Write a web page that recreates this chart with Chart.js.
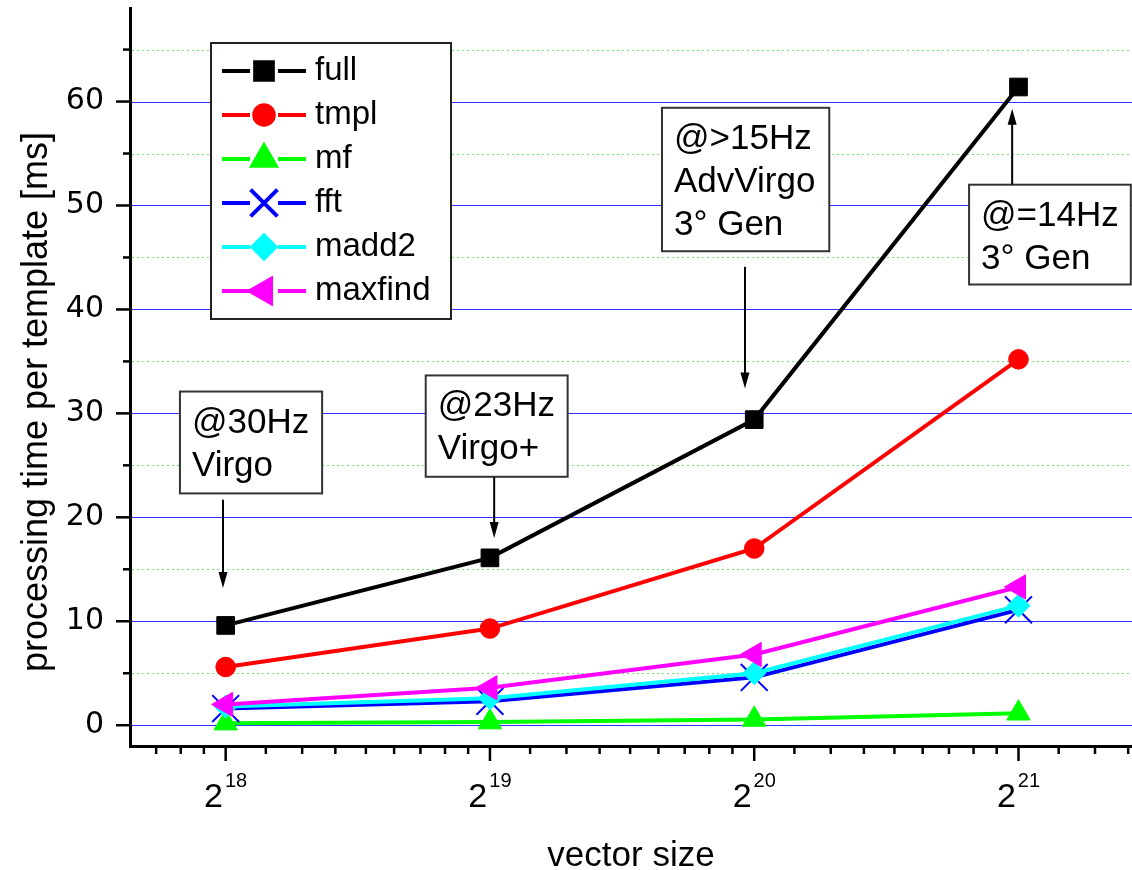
<!DOCTYPE html>
<html>
<head>
<meta charset="utf-8">
<script src="https://cdn.jsdelivr.net/npm/chart.js@4.4.1/dist/chart.umd.min.js"></script>
<style>
  html, body { margin: 0; padding: 0; background: #fff; overflow: hidden; }
  canvas { display: block; }
</style>
</head>
<body>
<canvas id="chart" width="1132" height="870"></canvas>
<script>
// vector sizes 2^18 .. 2^21
const exponents = [18, 19, 20, 21];
const vectorSizes = [262144, 524288, 1048576, 2097152];

// processing time per template [ms]
const fullTime    = [9.6, 16.1, 29.4, 61.4];
const tmplTime    = [5.6, 9.3, 17.0, 35.2];
const mfTime      = [0.2, 0.3, 0.55, 1.15];
const fftTime     = [1.6, 2.3, 4.6, 11.1];
const madd2Time   = [1.8, 2.6, 5.0, 11.5];
const maxfindTime = [2.0, 3.6, 6.8, 13.3];

const yMajorTicks = [0, 10, 20, 30, 40, 50, 60];
const yMinorTicks = [5, 15, 25, 35, 45, 55, 65];

// annotation boxes: box = [left exp, top value, right exp, bottom value], arrow = [exp, from, to]
const notes = [
  { lines: ['@30Hz', 'Virgo'], box: [17.827, 32.1, 18.365, 22.3], arrow: [17.99, 21.7, 13.2] },
  { lines: ['@23Hz', 'Virgo+'], box: [18.757, 33.65, 19.294, 23.9], arrow: [19.016, 23.85, 18.0] },
  { lines: ['@>15Hz', 'AdvVirgo', '3° Gen'], box: [19.651, 59.4, 20.284, 45.6], arrow: [19.965, 44.1, 32.4] },
  { lines: ['@=14Hz', '3° Gen'], box: [20.813, 52.0, 21.425, 42.4], arrow: [20.976, 52.0, 59.3] }
];

const X_MIN = Math.pow(2, 17.638);
const X_MAX = Math.pow(2, 21.4295);

function points(arr) {
  return vectorSizes.map((v, i) => ({ x: v, y: arr[i] }));
}

// minor ticks of the log2 axis: 8 linear steps inside each octave
const xTickList = [];
for (let e = 17; e <= 21; e++) {
  for (let k = 0; k < 9; k++) {
    const v = Math.pow(2, e) * (1 + k / 9);
    if (v >= X_MIN && v <= X_MAX) xTickList.push({ value: v, minor: k !== 0 });
  }
}

function noPadding(s) {
  s.paddingTop = 0; s.paddingBottom = 0; s.paddingLeft = 0; s.paddingRight = 0;
}

function drawLegend(chart) {
  const { ctx, chartArea: a } = chart;
  const left = a.left + 81, top = a.top + 35, w = 240, h = 276;
  ctx.save();
  ctx.fillStyle = '#fff';
  ctx.fillRect(left, top, w, h);
  ctx.strokeStyle = '#222';
  ctx.lineWidth = 2;
  ctx.strokeRect(left, top, w, h);
  chart.data.datasets.forEach((ds, i) => {
    const cy = top + 28 + i * 44;
    const mx = left + 53;
    ctx.strokeStyle = ds.borderColor;
    ctx.lineWidth = 4;
    ctx.beginPath();
    ctx.moveTo(left + 11, cy); ctx.lineTo(mx - 14, cy);
    ctx.moveTo(mx + 14, cy); ctx.lineTo(left + 95, cy);
    ctx.stroke();
    ctx.fillStyle = ds.backgroundColor;
    ctx.strokeStyle = ds.borderColor;
    Chart.helpers.drawPoint(ctx, {
      pointStyle: ds.pointStyle,
      rotation: ds.pointRotation || 0,
      radius: ds.pointRadius,
      borderWidth: ds.pointBorderWidth
    }, mx, cy);
    ctx.fillStyle = '#000';
    ctx.font = '33px "Liberation Sans", Arial, sans-serif';
    ctx.textBaseline = 'middle';
    ctx.textAlign = 'left';
    ctx.fillText(ds.label, left + 104, cy);
  });
  ctx.restore();
}

function drawNotes(chart) {
  const { ctx, scales: { x, y } } = chart;
  ctx.save();
  notes.forEach(n => {
    const x0 = x.getPixelForValue(Math.pow(2, n.box[0]));
    const x1 = x.getPixelForValue(Math.pow(2, n.box[2]));
    const y0 = y.getPixelForValue(n.box[1]);
    const y1 = y.getPixelForValue(n.box[3]);
    ctx.fillStyle = '#fff';
    ctx.fillRect(x0, y0, x1 - x0, y1 - y0);
    ctx.strokeStyle = '#333';
    ctx.lineWidth = 2;
    ctx.strokeRect(x0, y0, x1 - x0, y1 - y0);
    ctx.fillStyle = '#000';
    ctx.font = '35px "Liberation Sans", Arial, sans-serif';
    ctx.textAlign = 'left';
    ctx.textBaseline = 'alphabetic';
    n.lines.forEach((t, i) => ctx.fillText(t, x0 + 12, y0 + 41 + i * 43));

    const ax = x.getPixelForValue(Math.pow(2, n.arrow[0]));
    const ay0 = y.getPixelForValue(n.arrow[1]);
    const ay1 = y.getPixelForValue(n.arrow[2]);
    const dir = Math.sign(ay1 - ay0);
    ctx.strokeStyle = '#000';
    ctx.lineWidth = 2;
    ctx.beginPath();
    ctx.moveTo(ax, ay0);
    ctx.lineTo(ax, ay1 - dir * 12);
    ctx.stroke();
    ctx.beginPath();
    ctx.moveTo(ax, ay1);
    ctx.lineTo(ax - 4.5, ay1 - dir * 16);
    ctx.lineTo(ax + 4.5, ay1 - dir * 16);
    ctx.closePath();
    ctx.fill();
  });
  ctx.restore();
}

const decor = {
  id: 'decor',
  beforeDatasetsDraw(chart) {
    const { ctx, chartArea: a, scales: { y } } = chart;
    ctx.save();
    ctx.lineWidth = 1;
    // solid blue major grid
    ctx.strokeStyle = '#3030ff';
    yMajorTicks.forEach(v => {
      const py = Math.round(y.getPixelForValue(v)) + 0.5;
      ctx.beginPath();
      ctx.moveTo(a.left + 2, py);
      ctx.lineTo(a.right, py);
      ctx.stroke();
    });
    // dotted green minor grid
    ctx.strokeStyle = '#6be86b';
    ctx.setLineDash([2, 3]);
    yMinorTicks.forEach(v => {
      const py = Math.round(y.getPixelForValue(v)) + 0.5;
      ctx.beginPath();
      ctx.moveTo(a.left + 2, py);
      ctx.lineTo(a.right, py);
      ctx.stroke();
    });
    ctx.restore();
  },
  afterDraw(chart) {
    const { ctx, chartArea: a, scales: { x, y } } = chart;
    ctx.save();
    ctx.strokeStyle = '#000';
    ctx.lineWidth = 2.5;
    // y tick marks (outside)
    y.ticks.forEach(t => {
      const py = y.getPixelForValue(t.value);
      const len = t.value % 10 === 0 ? 14 : 7;
      ctx.beginPath();
      ctx.moveTo(a.left, py);
      ctx.lineTo(a.left - len, py);
      ctx.stroke();
    });
    // x tick marks (outside)
    x.ticks.forEach(t => {
      const px = x.getPixelForValue(t.value);
      const len = t.minor ? 8 : 15;
      ctx.beginPath();
      ctx.moveTo(px, a.bottom);
      ctx.lineTo(px, a.bottom + len);
      ctx.stroke();
    });
    // x tick labels 2^n
    ctx.fillStyle = '#000';
    ctx.textBaseline = 'alphabetic';
    ctx.textAlign = 'left';
    exponents.forEach((e, i) => {
      const px = x.getPixelForValue(vectorSizes[i]);
      ctx.font = '34px "Liberation Sans", Arial, sans-serif';
      const wb = ctx.measureText('2').width;
      ctx.font = '20px "Liberation Sans", Arial, sans-serif';
      const we = ctx.measureText(String(e)).width;
      const start = px - (wb + 2 + we) / 2;
      ctx.font = '34px "Liberation Sans", Arial, sans-serif';
      ctx.fillText('2', start, a.bottom + 61);
      ctx.font = '20px "Liberation Sans", Arial, sans-serif';
      ctx.fillText(String(e), start + wb + 2, a.bottom + 41);
    });
    // y axis title
    ctx.translate(47, (a.top + a.bottom) / 2 + 25);
    ctx.rotate(-Math.PI / 2);
    ctx.textAlign = 'center';
    ctx.font = '36px "Liberation Sans", Arial, sans-serif';
    ctx.fillText('processing time per template [ms]', 0, 0);
    ctx.restore();

    drawLegend(chart);
    drawNotes(chart);
  }
};

new Chart(document.getElementById('chart'), {
  type: 'line',
  data: {
    datasets: [
      { label: 'full', data: points(fullTime), borderColor: '#000000', backgroundColor: '#000000',
        pointStyle: 'rect', pointRadius: 12.5, pointBorderWidth: 1, order: 5 },
      { label: 'tmpl', data: points(tmplTime), borderColor: '#ff0000', backgroundColor: '#ff0000',
        pointStyle: 'circle', pointRadius: 9.8, pointBorderWidth: 1, order: 4 },
      { label: 'mf', data: points(mfTime), borderColor: '#00ff00', backgroundColor: '#00ff00',
        pointStyle: 'triangle', pointRadius: 13.5, pointBorderWidth: 1, order: 3 },
      { label: 'fft', data: points(fftTime), borderColor: '#0000ff', backgroundColor: '#0000ff',
        pointStyle: 'crossRot', pointRadius: 19, pointBorderWidth: 2, order: 2 },
      { label: 'madd2', data: points(madd2Time), borderColor: '#00ffff', backgroundColor: '#00ffff',
        pointStyle: 'rectRot', pointRadius: 11.5, pointBorderWidth: 1, order: 1 },
      { label: 'maxfind', data: points(maxfindTime), borderColor: '#ff00ff', backgroundColor: '#ff00ff',
        pointStyle: 'triangle', pointRotation: 270, pointRadius: 14, pointBorderWidth: 1, order: 0 }
    ]
  },
  options: {
    responsive: false,
    animation: false,
    elements: { line: { borderWidth: 4, tension: 0 } },
    layout: { autoPadding: false, padding: { top: 8, left: 0, right: 0, bottom: 0 } },
    plugins: { legend: { display: false }, tooltip: { enabled: false } },
    scales: {
      x: {
        type: 'logarithmic',
        min: X_MIN,
        max: X_MAX,
        bounds: 'data',
        afterBuildTicks: s => { s.ticks = xTickList.map(t => ({ value: t.value, minor: t.minor })); },
        afterFit: s => { s.height = 124; noPadding(s); },
        grid: { display: true, drawOnChartArea: false, drawTicks: false },
        border: { display: true, color: '#000', width: 3 },
        ticks: { display: false },
        title: {
          display: true,
          text: 'vector size',
          color: '#000',
          padding: 0,
          font: { family: '"Liberation Sans", Arial, sans-serif', size: 35, lineHeight: 0.8 }
        }
      },
      y: {
        type: 'linear',
        min: -2,
        max: 69,
        bounds: 'data',
        afterBuildTicks: s => {
          s.ticks = yMajorTicks.concat(yMinorTicks).sort((p, q) => p - q).map(v => ({ value: v }));
        },
        afterFit: s => { s.width = 130; noPadding(s); },
        grid: { display: true, drawOnChartArea: false, drawTicks: false },
        border: { display: true, color: '#000', width: 3 },
        ticks: {
          color: '#000',
          padding: 26,
          font: { family: '"DejaVu Sans", sans-serif', size: 30 },
          callback: v => (v % 10 === 0 ? String(v) : '')
        }
      }
    }
  },
  plugins: [decor]
});
</script>
</body>
</html>
